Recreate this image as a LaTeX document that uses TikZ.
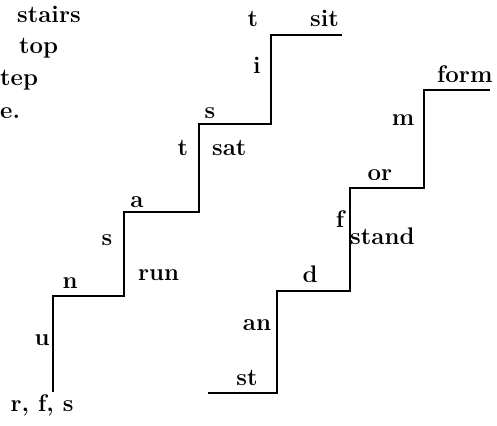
\documentclass[tikz,border=0pt]{standalone}
\begin{document}
\begin{tikzpicture}[x=1pt,y=-1pt,
  lbl/.style={inner sep=0pt,anchor=base,font=\fontsize{24}{28}\selectfont\bfseries},
  stair/.style={line width=1.8pt,line join=miter}]
\useasboundingbox (0,0) rectangle (497,425);
\clip (0,0) rectangle (497,425);
% partial text at top-left
\node[lbl,anchor=base west] (t1) at (17,23) {stairs};
\node[lbl,anchor=base west] (t2) at (19,54) {top};
\node[lbl,anchor=base west] (t3) at (0,86) {tep};
\node[lbl,anchor=base west] (t4) at (0,118) {e.};
% left staircase corners
\coordinate (a0) at (53,392);
\coordinate (a1) at (53,296);
\coordinate (a2) at (124,296);
\coordinate (a3) at (124,212);
\coordinate (a4) at (199,212);
\coordinate (a5) at (199,124);
\coordinate (a6) at (271,124);
\coordinate (a7) at (271,35);
\coordinate (a8) at (342,35);
\draw[stair] (a0) -- (a1) -- (a2) -- (a3) -- (a4) -- (a5) -- (a6) -- (a7) -- (a8);
% right staircase corners
\coordinate (b0) at (208,393);
\coordinate (b1) at (277,393);
\coordinate (b2) at (277,291);
\coordinate (b3) at (350,291);
\coordinate (b4) at (350,188);
\coordinate (b5) at (424,188);
\coordinate (b6) at (424,90);
\coordinate (b7) at (490,90);
\draw[stair] (b0) -- (b1) -- (b2) -- (b3) -- (b4) -- (b5) -- (b6) -- (b7);
% left staircase labels
\node[lbl] (rfs) at (42,411) {r, f, s};
\node[lbl] (lu) at (42,345) {u};
\node[lbl] (ln) at (70,288) {n};
\node[lbl] (ls) at (107,245) {s};
\node[lbl,anchor=base west] (lrun) at (138,280) {run};
\node[lbl] (la) at (137,207) {a};
\node[lbl] (lt) at (183,155) {t};
\node[lbl,anchor=base west] (lsat) at (212,155) {sat};
\node[lbl] (ls2) at (210,118) {s};
\node[lbl] (li) at (257,74) {i};
\node[lbl] (lt2) at (253,27) {t};
\node[lbl,anchor=base west] (lsit) at (310,27) {sit};
% right staircase labels
\node[lbl] (rst) at (247,385) {st};
\node[lbl] (ran) at (257,330) {an};
\node[lbl] (rd) at (310,282) {d};
\node[lbl] (rf) at (340,227) {f};
\node[lbl,anchor=base west] (rstand) at (350,244) {stand};
\node[lbl] (ror) at (380,180) {or};
\node[lbl] (rm) at (403,125) {m};
\node[lbl,anchor=base west] (rform) at (437,83) {form};
\end{tikzpicture}
\end{document}
